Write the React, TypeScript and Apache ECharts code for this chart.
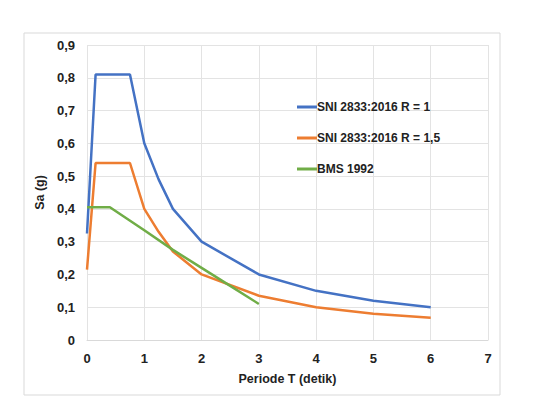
import React, { useEffect, useRef } from "react";
import * as echarts from "echarts";

const seriesNames = ["SNI 2833:2016 R = 1", "SNI 2833:2016 R = 1,5", "BMS 1992"];
const colors = ["#4472C4", "#ED7D31", "#70AD47"];

const sniR1: [number, number][] = [
  [0, 0.325], [0.15, 0.81], [0.75, 0.81], [1, 0.6], [1.25, 0.49], [1.5, 0.4],
  [2, 0.3], [3, 0.2], [4, 0.15], [5, 0.12], [6, 0.1],
];
const sniR15: [number, number][] = [
  [0, 0.215], [0.15, 0.54], [0.75, 0.54], [1, 0.4], [1.25, 0.33], [1.5, 0.27],
  [2, 0.2], [3, 0.135], [4, 0.1], [5, 0.08], [6, 0.068],
];
const bms: [number, number][] = [
  [0, 0.405], [0.4, 0.405], [1, 0.335], [1.5, 0.275], [2, 0.22], [2.5, 0.165], [3, 0.11],
];

const xTicks = [0, 1, 2, 3, 4, 5, 6, 7];
const yTicks = [0, 0.1, 0.2, 0.3, 0.4, 0.5, 0.6, 0.7, 0.8, 0.9];

export default function App() {
  const ref = useRef<HTMLDivElement>(null);
  useEffect(() => {
    const chart = echarts.init(ref.current!, null, { renderer: "svg" });
    const font = "Liberation Sans, Arial, sans-serif";
    chart.setOption({
      animation: false,
      backgroundColor: "#ffffff",
      textStyle: { fontFamily: font },
      graphic: [
        {
          type: "rect",
          shape: { x: 16, y: 25, width: 476, height: 362 },
          style: { fill: "none", stroke: "#d9d9d9", lineWidth: 1 },
          silent: true,
        },
      ],
      legend: {
        orient: "vertical",
        left: 284,
        top: 88,
        itemGap: 19,
        itemWidth: 20,
        itemHeight: 3,
        icon: "rect",
        textStyle: { fontSize: 12, fontWeight: "bold", color: "#222", padding: [0, 0, 0, -5] },
        data: seriesNames,
      },
      grid: { left: 79, right: 52, top: 37, bottom: 72, containLabel: false },
      xAxis: {
        type: "value",
        min: xTicks[0],
        max: xTicks[xTicks.length - 1],
        interval: 1,
        name: "Periode T (detik)",
        nameLocation: "middle",
        nameGap: 32,
        nameTextStyle: { fontSize: 12.5, fontWeight: "bold", color: "#222" },
        axisLine: { lineStyle: { color: "#d9d9d9" } },
        axisTick: { show: false },
        axisLabel: { fontSize: 13, fontWeight: "bold", color: "#222", margin: 12 },
        splitLine: { show: true, lineStyle: { color: "#e3e3e3" } },
      },
      yAxis: {
        type: "value",
        min: yTicks[0],
        max: yTicks[yTicks.length - 1],
        interval: 0.1,
        name: "Sa (g)",
        nameLocation: "middle",
        nameGap: 30,
        nameTextStyle: { fontSize: 12.5, fontWeight: "bold", color: "#222" },
        axisLine: { show: false },
        axisTick: { show: false },
        axisLabel: {
          fontSize: 13,
          fontWeight: "bold",
          color: "#222",
          margin: 12,
          formatter: (v: number) => (Math.round(v * 10) / 10).toString().replace(".", ","),
        },
        splitLine: { show: true, lineStyle: { color: "#e3e3e3" } },
      },
      series: [sniR1, sniR15, bms].map((d, i) => ({
        name: seriesNames[i],
        type: "line",
        data: d,
        symbol: "none",
        smooth: false,
        lineStyle: { color: colors[i], width: 2.5 },
        itemStyle: { color: colors[i] },
      })),
    });
    return () => chart.dispose();
  }, []);
  return <div ref={ref} style={{ width: 532, height: 404 }} />;
}
